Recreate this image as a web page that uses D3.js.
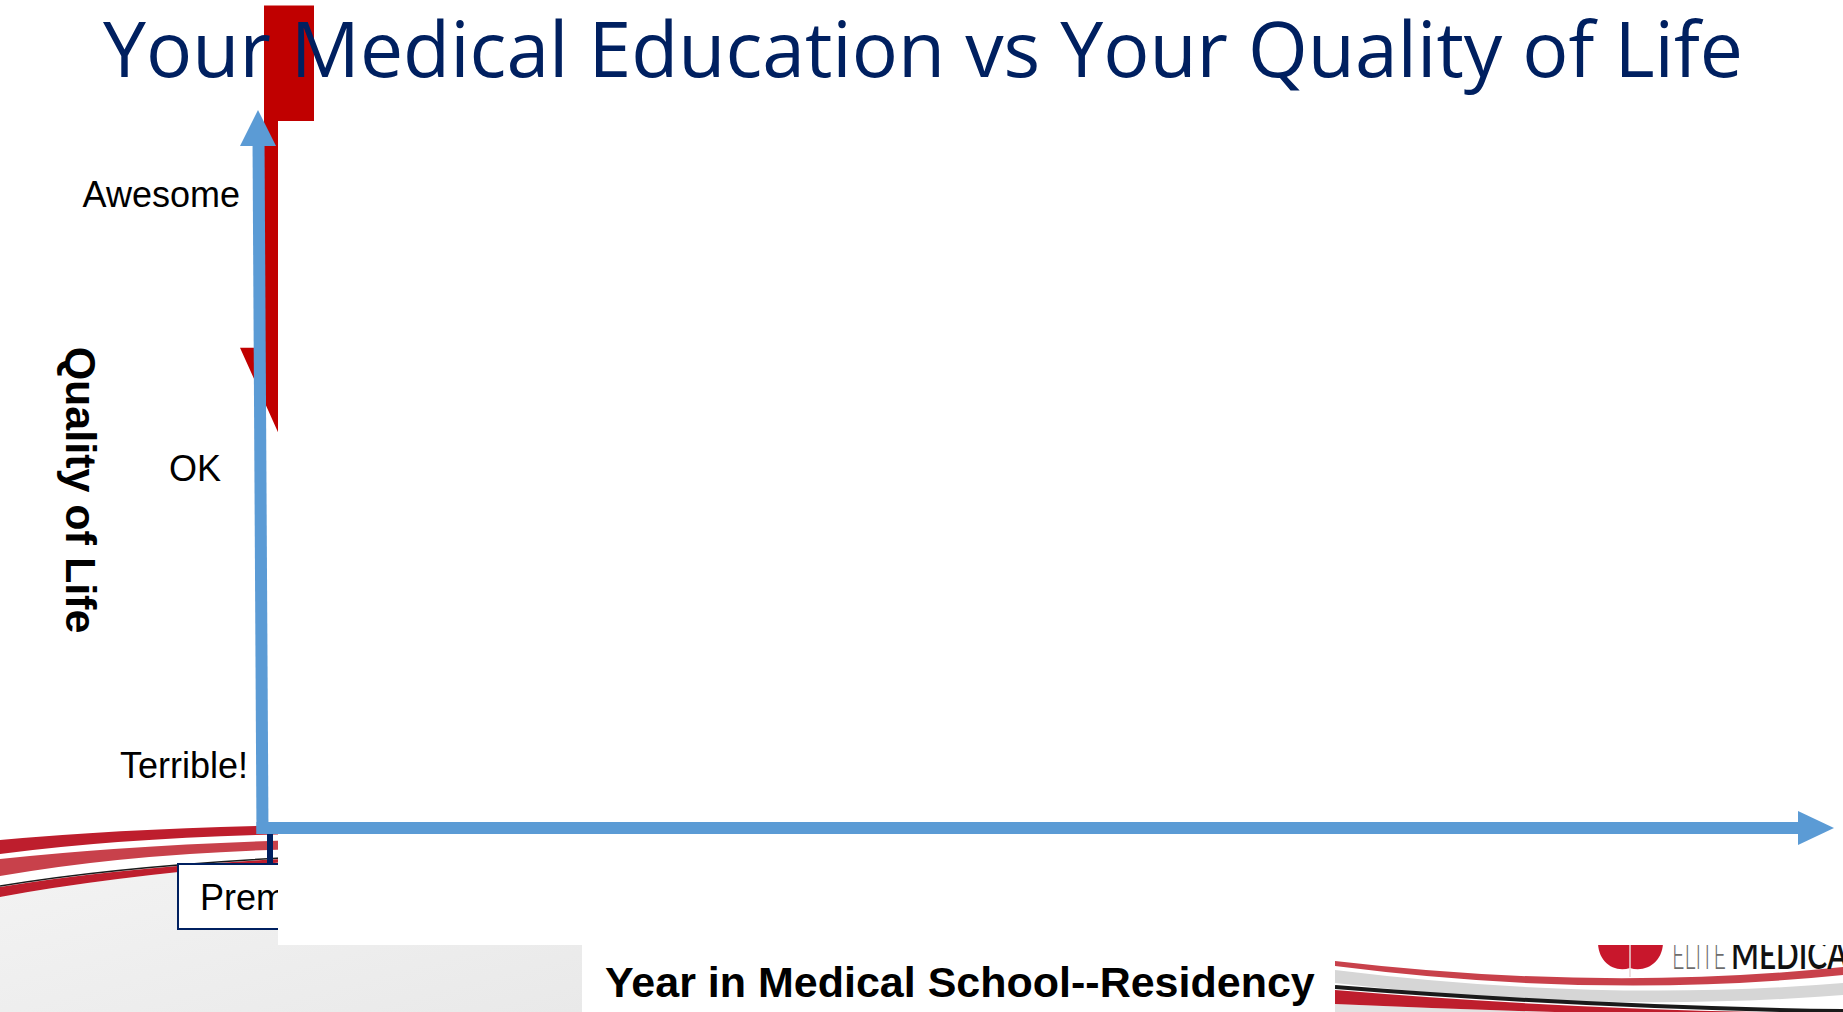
<!DOCTYPE html>
<html>
<head>
<meta charset="utf-8">
<script src="https://cdn.jsdelivr.net/npm/d3@7"></script>
<style>
  body { margin: 0; background: #fff; overflow: hidden; }
  svg { display: block; }
</style>
</head>
<body>
<div id="slide"></div>
<script>
// chart content
var titleText = "Your Medical Education vs Your Quality of Life";
var qualityLabels = ["Terrible!", "OK", "Awesome"];
var qualityValues = [0, 52, 100];
var yearLabels = ["Premed"];
// the red "drop" arrow (quality values, start of shaft -> arrow tip)
var dropStart = [133];
var dropEnd = [54];

var svgWidth = 1843;
var svgHeight = 1012;

var svg = d3.select("#slide")
  .append("svg")
  .attr("width", svgWidth)
  .attr("height", svgHeight);

// scales
var yScale = d3.scaleLinear().domain([0, 100]).range([765, 194]);
var xScale = d3.scaleBand().domain(yearLabels).range([178, 362]);

var defs = svg.append("defs");
var grad = defs.append("linearGradient").attr("id", "grayGrad")
  .attr("x1", "0").attr("y1", "0").attr("x2", "1").attr("y2", "1");
grad.append("stop").attr("offset", "0%").attr("stop-color", "#f3f3f3");
grad.append("stop").attr("offset", "100%").attr("stop-color", "#e9e9e9");

// ---- slide template: bottom left swooshes ----
svg.append("path")
  .attr("d", "M0,897 Q120,875 300,861 L582,861 L582,1012 L0,1012 Z")
  .attr("fill", "url(#grayGrad)");
svg.append("path")
  .attr("d", "M0,840 Q130,828 300,825 L300,834 Q130,837 0,854 Z")
  .attr("fill", "#be1e2d");
svg.append("path")
  .attr("d", "M0,859 Q130,845 300,840 L300,849 Q130,853 0,876 Z")
  .attr("fill", "#c8414b");
svg.append("path")
  .attr("d", "M0,887 Q120,867 300,858 L300,861 Q120,875 0,897 Z")
  .attr("fill", "#be1e2d");
svg.append("path")
  .attr("d", "M0,886 Q120,866 300,857")
  .attr("fill", "none").attr("stroke", "#1a1a1a").attr("stroke-width", 1.5);

// ---- bottom right swooshes + logo ----
svg.append("path")
  .attr("d", "M1335,1004 Q1600,1016 1843,1016 L1843,1012 L1335,1012 Z")
  .attr("fill", "#e2e2e2");
svg.append("path")
  .attr("d", "M1335,961 Q1600,992 1843,967 L1843,975 Q1600,1000 1335,966 Z")
  .attr("fill", "#c8414b");
svg.append("path")
  .attr("d", "M1335,970 Q1600,1003 1843,983 L1843,995 Q1600,1014 1335,983 Z")
  .attr("fill", "#d6d6d6");
svg.append("path")
  .attr("d", "M1335,990 Q1600,1012 1843,1013 L1843,1016 Q1600,1016 1335,1004 Z")
  .attr("fill", "#be1e2d");
svg.append("path")
  .attr("d", "M1335,987 Q1600,1008 1843,1011")
  .attr("fill", "none").attr("stroke", "#1a1a1a").attr("stroke-width", 4);

svg.append("path")
  .attr("d", "M1598,940 C1597,962 1614,973 1630,968 C1646,973 1664,962 1663,940 Z")
  .attr("fill", "#c8172c");
svg.append("line")
  .attr("x1", 1630).attr("x2", 1630).attr("y1", 940).attr("y2", 977)
  .attr("stroke", "#e8d6d6").attr("stroke-width", 1.5);
svg.append("text")
  .attr("x", 1672).attr("y", 969)
  .attr("textLength", 54)
  .attr("lengthAdjust", "spacingAndGlyphs")
  .style("font-family", "Lato, 'Open Sans', sans-serif")
  .style("font-size", "40px").style("font-weight", 300)
  .attr("fill", "#6d6d6d")
  .text("ELITE");
svg.append("text")
  .attr("x", 1731).attr("y", 969)
  .attr("textLength", 132)
  .attr("lengthAdjust", "spacingAndGlyphs")
  .style("font-family", "Lato, 'Open Sans', sans-serif")
  .style("font-size", "40px").style("font-weight", 600)
  .attr("fill", "#111")
  .text("MEDICAL");

// ---- x category box (Premed) ----
var catGroup = svg.append("g");
catGroup.selectAll("rect.tick")
  .data(yearLabels)
  .enter()
  .append("rect")
  .attr("class", "tick")
  .attr("x", d => xScale(d) + xScale.bandwidth() / 2 - 3)
  .attr("y", 834)
  .attr("width", 6)
  .attr("height", 30)
  .attr("fill", "#002060");
catGroup.selectAll("rect.box")
  .data(yearLabels)
  .enter()
  .append("rect")
  .attr("class", "box")
  .attr("x", d => xScale(d))
  .attr("y", 864)
  .attr("width", xScale.bandwidth())
  .attr("height", 65)
  .attr("fill", "#fff")
  .attr("stroke", "#002060")
  .attr("stroke-width", 2);
catGroup.selectAll("text")
  .data(yearLabels)
  .enter()
  .append("text")
  .attr("x", d => xScale(d) + 22)
  .attr("y", 910)
  .style("font-family", "'Liberation Sans', Arial, sans-serif")
  .style("font-size", "36px")
  .attr("fill", "#000")
  .text(d => d);

// ---- red drop arrow ----
var arrowOffset = 19; // arrow sits a little right of the category tick
var shaftHalf = 25, headHalf = 49, headLen = 109;
svg.selectAll("path.drop")
  .data(yearLabels)
  .enter()
  .append("path")
  .attr("class", "drop")
  .attr("d", function(d, i) {
    var cx = xScale(d) + xScale.bandwidth() / 2 + arrowOffset;
    var y0 = yScale(dropStart[i]);
    var tip = yScale(dropEnd[i]);
    var hb = tip - headLen;
    return "M" + (cx - shaftHalf) + "," + y0 +
      " L" + (cx + shaftHalf) + "," + y0 +
      " L" + (cx + shaftHalf) + "," + hb +
      " L" + (cx + headHalf) + "," + hb +
      " L" + cx + "," + tip +
      " L" + (cx - headHalf) + "," + hb +
      " L" + (cx - shaftHalf) + "," + hb + " Z";
  })
  .attr("fill", "#c00000");

// ---- white plot panel that hides most of the chart ----
svg.append("rect")
  .attr("x", 278).attr("y", 121)
  .attr("width", svgWidth - 278).attr("height", 945 - 121)
  .attr("fill", "#fff");
svg.append("rect")
  .attr("x", 582).attr("y", 940)
  .attr("width", 1335 - 582).attr("height", 72)
  .attr("fill", "#fff");

// ---- blue axes arrows ----
var blue = "#5b9bd5";
svg.append("line")
  .attr("x1", 258.5).attr("y1", 140)
  .attr("x2", 262.5).attr("y2", 834)
  .attr("stroke", blue).attr("stroke-width", 12);
svg.append("path")
  .attr("d", "M258,110 L276,146 L240,146 Z")
  .attr("fill", blue);
svg.append("line")
  .attr("x1", 256.5).attr("y1", 828)
  .attr("x2", 1800).attr("y2", 828)
  .attr("stroke", blue).attr("stroke-width", 12);
svg.append("path")
  .attr("d", "M1798,811 L1834,828 L1798,845 Z")
  .attr("fill", blue);

// ---- y tick labels ----
var tickLabelRight = [248, 221, 240];
svg.selectAll("text.ylab")
  .data(qualityLabels)
  .enter()
  .append("text")
  .attr("class", "ylab")
  .attr("x", (d, i) => tickLabelRight[i])
  .attr("y", (d, i) => yScale(qualityValues[i]))
  .attr("dy", "0.36em")
  .attr("text-anchor", "end")
  .style("font-family", "'Liberation Sans', Arial, sans-serif")
  .style("font-size", "36px")
  .attr("fill", "#000")
  .text(d => d);

// ---- axis titles ----
svg.append("text")
  .attr("transform", "translate(66, 490) rotate(90)")
  .attr("text-anchor", "middle")
  .style("font-family", "'Liberation Sans', Arial, sans-serif")
  .style("font-size", "43px")
  .style("font-weight", "bold")
  .attr("fill", "#000")
  .text("Quality of Life");

svg.append("text")
  .attr("x", 605).attr("y", 997)
  .style("font-family", "'Liberation Sans', Arial, sans-serif")
  .style("font-size", "43px")
  .style("font-weight", "bold")
  .attr("fill", "#000")
  .text("Year in Medical School--Residency");

// ---- slide title ----
svg.append("text")
  .attr("x", 103).attr("y", 77)
  .attr("textLength", 1640)
  .attr("lengthAdjust", "spacingAndGlyphs")
  .style("font-family", "'Open Sans', 'Noto Sans', sans-serif")
  .style("font-size", "77px")
  .attr("fill", "#002060")
  .text(titleText);
</script>
</body>
</html>
